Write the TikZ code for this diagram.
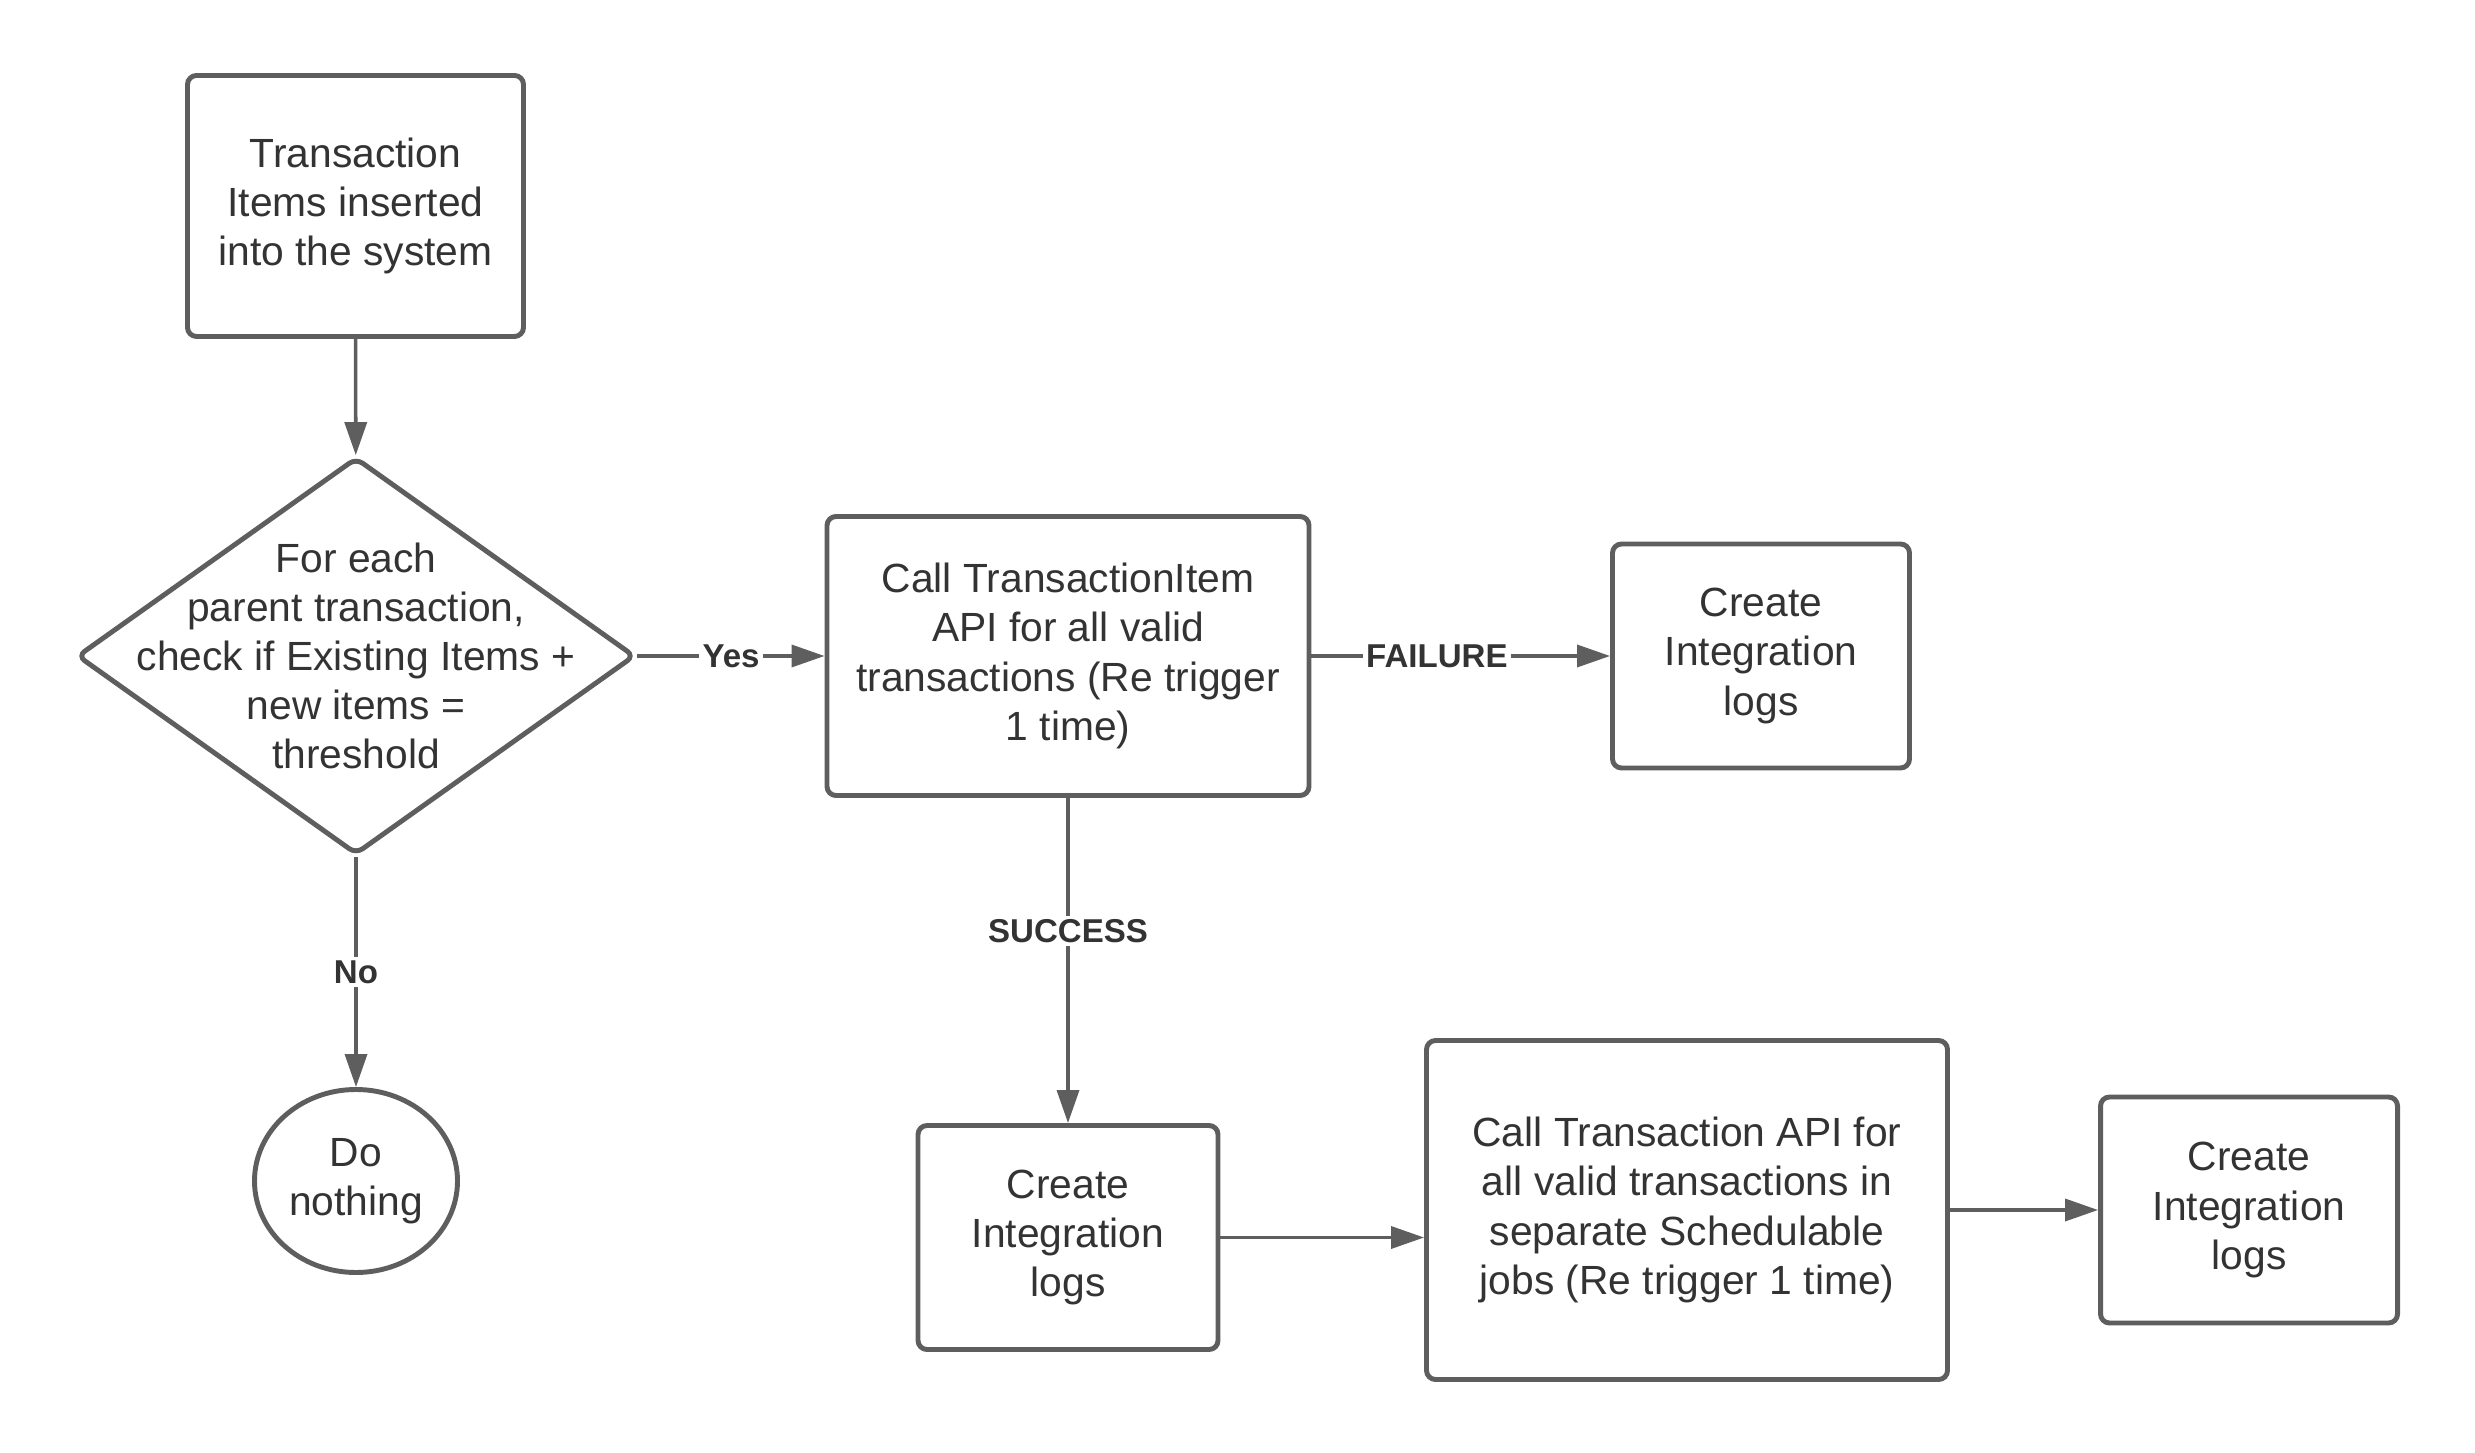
\documentclass[tikz,border=0pt]{standalone}
\usepackage{fontspec}
\setmainfont{Liberation Sans}
\usetikzlibrary{shapes.geometric}
\usetikzlibrary{arrows.meta}
\definecolor{linegray}{HTML}{5E5E5E}
\definecolor{textgray}{HTML}{333333}

\begin{document}
\begin{tikzpicture}[x=1cm,y=-1cm,
	box/.style={draw=linegray,line width=1.4pt,rounded corners=0.09cm,fill=white,align=center,inner sep=0pt,text=textgray,font=\fontsize{11.6}{14}\selectfont},
	flow/.style={draw=linegray,line width=1pt,-{Triangle[length=0.33cm,width=0.22cm]}},
	tag/.style={fill=white,text=textgray,font=\bfseries\fontsize{9.4}{11}\selectfont,inner sep=1pt}]
		\useasboundingbox (0,0) rectangle (24.75,14.53);
		\path (3.555,2.06) node(start)[box,minimum width=3.36cm,minimum height=2.61cm]{Transaction\\Items inserted\\into the system}
		(3.56,6.56) node(check)[box,diamond,rounded corners=0.08cm,minimum width=5.58cm,minimum height=3.97cm,
			label={[align=center,text=textgray,font=\fontsize{11.6}{14}\selectfont]center:For each\\parent transaction,\\check if Existing Items +\\new items =\\threshold}]{}
		(3.56,11.81) node(none)[box,ellipse,minimum width=2.03cm,minimum height=1.83cm]{Do\\nothing}
		(10.68,6.56) node(call)[box,minimum width=4.82cm,minimum height=2.79cm]{Call TransactionItem\\API for all valid\\transactions (Re trigger\\1 time)}
		(17.61,6.56) node(faillog)[box,minimum width=2.97cm,minimum height=2.24cm]{Create\\Integration\\logs}
		(10.68,12.375) node(oklog)[box,minimum width=3.00cm,minimum height=2.24cm]{Create\\Integration\\logs}
		(16.87,12.10) node(batch)[box,minimum width=5.21cm,minimum height=3.39cm]{Call Transaction API for\\all valid transactions in\\separate Schedulable\\jobs (Re trigger 1 time)}
		(22.49,12.10) node(batchlog)[box,minimum width=2.97cm,minimum height=2.26cm]{Create\\Integration\\logs};
		\draw[flow] (start) to (check);
		\draw[flow] (check) to node[tag]{Yes} (call);
		\draw[flow] (check) to node[tag]{No} (none);
		\draw[flow] (call) to node[tag,pos=0.42]{FAILURE} (faillog);
		\draw[flow] (call) to node[tag,pos=0.41]{SUCCESS} (oklog);
		\draw[flow] (oklog.east) to (oklog.east -| batch.west);
		\draw[flow] (batch) to (batchlog);
	\end{tikzpicture}
\end{document}
